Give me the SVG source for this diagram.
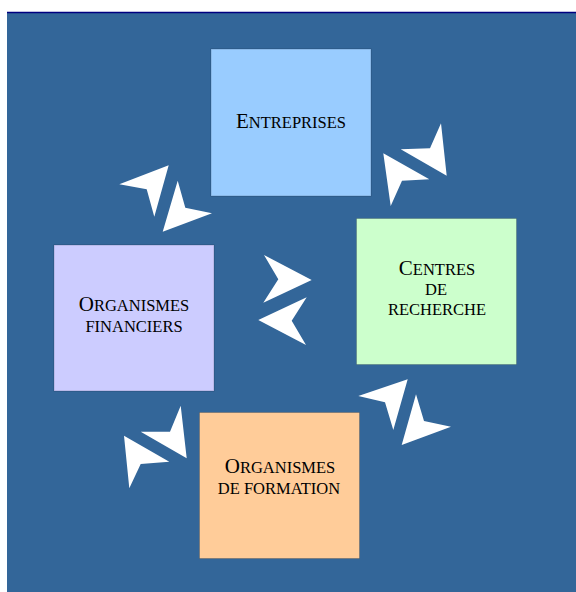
<svg xmlns="http://www.w3.org/2000/svg" width="576" height="592" viewBox="0 0 576 592">
<style>
.bg{fill:#336699}
.box{stroke:#000;stroke-opacity:0.18;stroke-width:1}
.lbl{font-family:"Liberation Serif","Times New Roman",serif;font-size:16.5px;fill:#000;text-anchor:middle}
.big{font-size:21px}
.arr{fill:#fff}
</style>
<rect class="bg" x="7" y="12" width="569" height="580"/>
<line x1="7" y1="12.5" x2="576" y2="12.5" stroke="#000080" stroke-width="1.5"/>
<g id="connectors">
<polygon class="arr" points="119.3,184.3 168.7,165.3 154.3,216.7 146.7,189.3"/>
<polygon class="arr" points="177.7,180.7 185.3,207.7 212,213.3 162.7,231.7"/>
<polygon class="arr" points="441,123.3 430,148.3 400.7,149.3 446.7,175.7"/>
<polygon class="arr" points="383.3,153.3 429.3,179.3 402,180.7 390.7,206"/>
<polygon class="arr" points="264,255 311.7,280 263.3,302.7 278.3,279.3"/>
<polygon class="arr" points="306.7,297.3 291.7,320.7 306,345 258.3,320"/>
<polygon class="arr" points="180.7,405.7 170,431.7 140.7,431.7 186.7,458.3"/>
<polygon class="arr" points="124,435.7 169.3,461.7 140.7,464 129.3,488.3"/>
<polygon class="arr" points="358.3,396 407.7,379.3 393.3,430 385,402.3"/>
<polygon class="arr" points="416,394.3 424,421 451,426.7 401.7,445"/>
</g>
<g id="entreprises">
<rect class="box" x="211" y="49" width="160" height="147" fill="#99CCFF"/>
<text class="lbl" x="291" y="128"><tspan class="big">E</tspan>NTREPRISES</text>
</g>
<g id="centres-de-recherche">
<rect class="box" x="356.5" y="218.5" width="160" height="146" fill="#CCFFCC"/>
<text class="lbl" x="437" y="275"><tspan class="big">C</tspan>ENTRES</text>
<text class="lbl" x="436" y="295">DE</text>
<text class="lbl" x="437" y="315">RECHERCHE</text>
</g>
<g id="organismes-financiers">
<rect class="box" x="54" y="245" width="160" height="146" fill="#CCCCFF"/>
<text class="lbl" x="134" y="311"><tspan class="big">O</tspan>RGANISMES</text>
<text class="lbl" x="134" y="332">FINANCIERS</text>
</g>
<g id="organismes-de-formation">
<rect class="box" x="199.5" y="412.5" width="160" height="146" fill="#FFCC99"/>
<text class="lbl" x="280" y="473"><tspan class="big">O</tspan>RGANISMES</text>
<text class="lbl" x="279" y="494">DE FORMATION</text>
</g>
</svg>
